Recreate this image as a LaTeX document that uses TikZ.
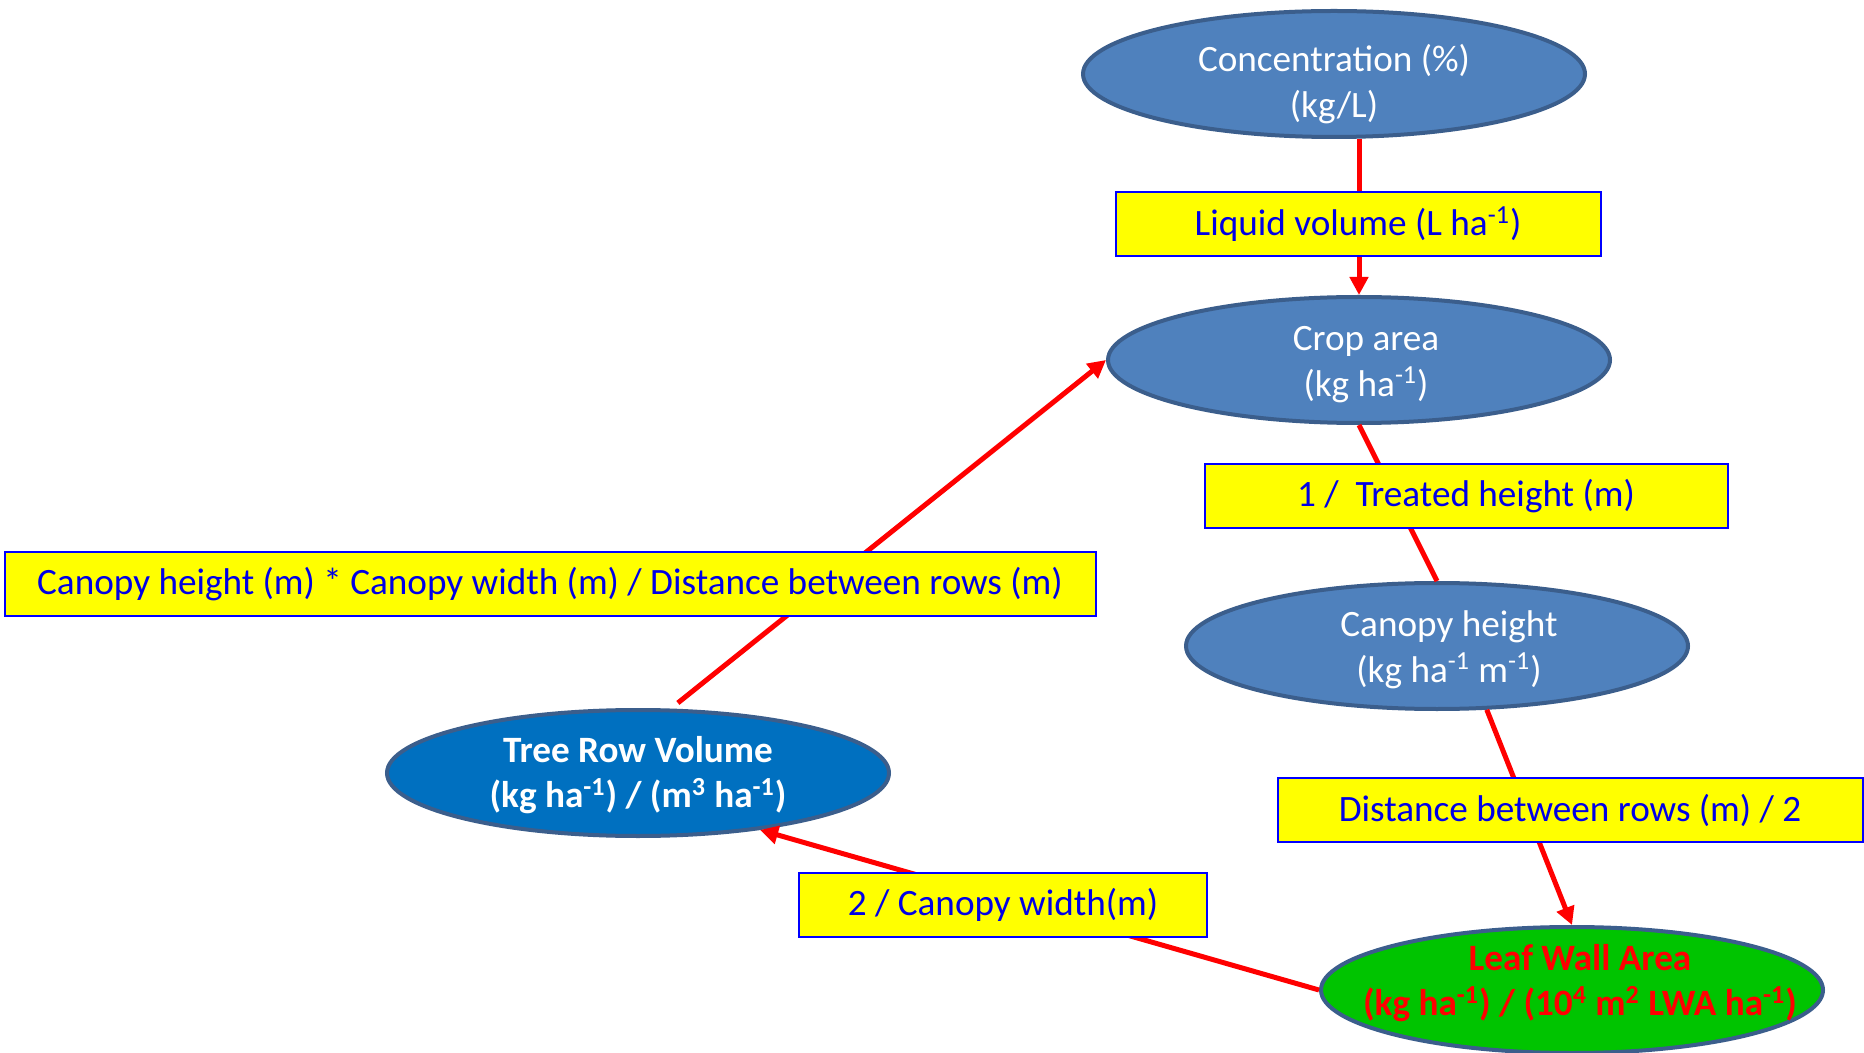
\documentclass[tikz,border=0pt]{standalone}
\usepackage{fontspec}
\setmainfont{Carlito}
\usetikzlibrary{shapes.geometric,arrows.meta}
\definecolor{ellfill}{HTML}{4F81BD}
\definecolor{ellborder}{HTML}{3B5E8C}
\definecolor{trvfill}{HTML}{0070C0}
\definecolor{lwafill}{HTML}{00C400}
\definecolor{boxtext}{HTML}{0000E6}
\definecolor{boxborder}{HTML}{0000FF}
\definecolor{boxfill}{HTML}{FFFF00}
\definecolor{linkred}{HTML}{FF0000}
\newcommand{\supm}[1]{\textsuperscript{#1}}
\begin{document}
\begin{tikzpicture}[x=0.5pt,y=-0.5pt,
  ell/.style={ellipse, draw=ellborder, line width=2pt, fill=ellfill,
    minimum width=251pt, minimum height=63pt, inner sep=0pt},
  elltext/.style={align=center, text=white, inner sep=0pt,
    font=\fontsize{18.6}{22.8}\selectfont},
  boldtext/.style={elltext, font=\fontsize{18.6}{22.8}\selectfont\bfseries},
  labelbox/.style={rectangle, draw=boxborder, line width=1pt, fill=boxfill,
    text=boxtext, inner sep=0pt, minimum height=32pt,
    font=\fontsize{18.6}{22}\selectfont},
  link/.style={draw=linkred, line width=2.5pt},
  tip/.style={-{Triangle[length=9pt,width=9pt]}}
]
\useasboundingbox[fill=white] (0,0) rectangle (1864,1053);

% ellipses
\node[ell, label={[elltext, yshift=-5pt]center:{Concentration (\%)\\(kg/L)}}] (conc) at (1334,74) {};
\node[ell, label={[elltext, yshift=-2.4pt, xshift=3.5pt]center:{Crop area\\(kg ha\supm{-1})}}] (crop) at (1359,360) {};
\node[ell, label={[elltext, yshift=-1.8pt, xshift=6pt]center:{Canopy height\\(kg ha\supm{-1} m\supm{-1})}}] (canh) at (1437,646) {};
\node[ell, fill=trvfill, label={[boldtext, yshift=-1pt]center:{Tree Row Volume\\(kg ha\supm{-1}) / (m\supm{3} ha\supm{-1})}}] (trv) at (638,773) {};
\node[ell, fill=lwafill, label={[boldtext, text=linkred, yshift=3.5pt, xshift=4pt]center:{Leaf Wall Area\\(kg ha\supm{-1}) / (10\supm{4} m\supm{2} LWA ha\supm{-1})}}] (lwa) at (1572,990) {};

% connectors
\draw[link, tip] (conc.south -| crop.north) -- (crop.north);
\draw[link] (crop.south) -- (canh.north);
\draw[link, tip] (canh.-52) -- (lwa.north);
\draw[link, tip] (lwa.west) -- (trv.-25);
\draw[link, tip, shorten <=4.5pt] (trv.63) -- (crop.west);

% label boxes
\node[labelbox, minimum width=242.5pt] (liq) at (1358,224) {Liquid volume (L ha\supm{-1})};
\node[labelbox, minimum width=261.5pt] (treat) at (1466,496) {1 /~ Treated height (m)};
\node[labelbox, minimum width=292.5pt] (dist) at (1570,810) {Distance between rows (m) / 2};
\node[labelbox, minimum width=204pt] (cw) at (1003,905) {2 / Canopy width(m)};
\node[labelbox, minimum width=545.5pt] (chw) at (550,584) {Canopy height (m) * Canopy width (m) / Distance between rows (m)};
\end{tikzpicture}
\end{document}
